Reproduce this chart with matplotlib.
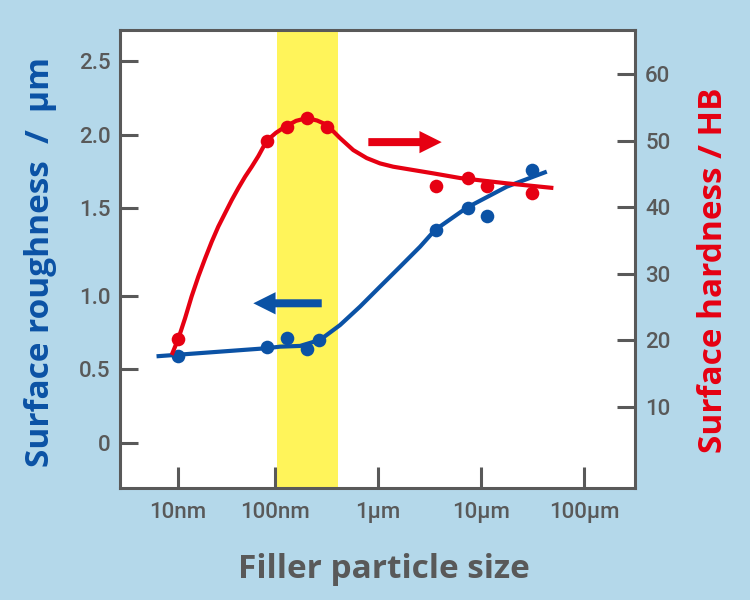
import numpy as np
import matplotlib
matplotlib.use("Agg")
import matplotlib.pyplot as plt
from matplotlib.ticker import FixedLocator, FixedFormatter, NullLocator

# --- data (particle size in nm) ---
rough_x = [10, 83, 130, 205, 270, 3630, 7430, 11400, 31500]
rough_y = [0.59, 0.65, 0.71, 0.64, 0.70, 1.375, 1.50, 1.455, 1.76]
hard_x = [10, 83, 130, 205, 318, 3630, 7430, 11400, 31500]
hard_y = [20.2, 50.0, 52.1, 53.5, 52.1, 43.2, 44.4, 43.2, 42.1]

# fitted trend curves
rough_fit_x = [6.0, 81, 112, 175, 273, 428, 668, 1045, 1636, 2560, 3573, 7280, 17800, 43500]
rough_fit_y = [0.587, 0.642, 0.653, 0.658, 0.699, 0.801, 0.927, 1.053, 1.166, 1.280, 1.375,
               1.502, 1.646, 1.749]
hard_fit_x = [8.6, 10.1, 11.8, 13.8, 16.2, 19.0, 22.2, 26.0, 30.5, 35.8, 41.9, 49.1, 57.5,
              67.3, 82.0, 102, 125, 160, 203, 256, 318, 428, 575, 776, 1045, 1406, 2200,
              3443, 6252, 17800, 50400]
hard_fit_y = [17.8, 20.3, 23.3, 26.6, 29.6, 32.3, 34.8, 37.1, 39.1, 41.1, 42.9, 44.6, 46.1,
              47.7, 50.0, 51.2, 52.1, 53.0, 53.4, 53.05, 52.4, 50.4, 48.6, 47.4, 46.6, 46.1,
              45.6, 45.1, 44.4, 43.6, 42.9]

x_ticks = [10, 100, 1000, 10000, 100000]
x_ticklabels = ["10nm", "100nm", "1μm", "10μm", "100μm"]
rough_ticks = [0, 0.5, 1.0, 1.5, 2.0, 2.5]
rough_ticklabels = ["0", "0.5", "1.0", "1.5", "2.0", "2.5"]
hard_ticks = [10, 20, 30, 40, 50, 60]
band = (105, 410)            # highlighted size range, nm

BG = "#B4D8EA"
GRAY = "#595959"
BLUE = "#0B52A5"
RED = "#E60012"
YELLOW = "#FFF45A"

# the original axes are hand drawn: tick spacing is not exactly uniform,
# so use piecewise-linear scales that hit the drawn tick positions
X_KNOTS = np.array([-3, 1, 2, 3, 4, 5, 9])          # log10(nm)
X_POS = np.array([-388, 0, 97, 200, 303, 406, 818])
Y_KNOTS = np.array([-2, 0, 0.5, 1.0, 1.5, 2.0, 2.5, 4.5])
Y_POS = np.array([-292, 0, 74, 147, 235, 308, 382, 674])


def x_fwd(v):
    return np.interp(np.log10(np.clip(v, 1e-3, None)), X_KNOTS, X_POS)


def x_inv(p):
    return 10 ** np.interp(p, X_POS, X_KNOTS)


def y_fwd(v):
    return np.interp(v, Y_KNOTS, Y_POS)


def y_inv(p):
    return np.interp(p, Y_POS, Y_KNOTS)


tick_font = dict(family=["Roboto", "DejaVu Sans"], size=16, weight="medium", color=GRAY)
label_font = dict(family=["Open Sans", "DejaVu Sans"], size=24, weight="bold")

fig = plt.figure(figsize=(7.5, 6), dpi=100, facecolor=BG)
ax = fig.add_axes([0.16, 0.1867, 0.6873, 0.7633])
ax.set_facecolor("white")
ax.set_xscale("function", functions=(x_fwd, x_inv))
ax.set_yscale("function", functions=(y_fwd, y_inv))
ax.set_xlim(2.52, 316000)
ax.set_ylim(-0.308, 2.712)

ax.axvspan(*band, color=YELLOW, lw=0, zorder=0)

ax.plot(rough_fit_x, rough_fit_y, color=BLUE, lw=3, solid_capstyle="butt",
        solid_joinstyle="round", zorder=2)
ax.plot(rough_x, rough_y, "o", color=BLUE, ms=9.8, mec="none", zorder=3)

ax2 = ax.twinx()
ax2.set_ylim(-2.21, 66.66)
ax2.plot(hard_fit_x, hard_fit_y, color=RED, lw=3, solid_capstyle="butt",
         solid_joinstyle="round", zorder=2)
ax2.plot(hard_x, hard_y, "o", color=RED, ms=9.8, mec="none", zorder=3)

# direction arrows: which axis each curve belongs to
ax2.annotate("", xy=(4150, 49.8), xytext=(805, 49.8),
             arrowprops=dict(arrowstyle="simple,head_length=1.0,head_width=1.0,tail_width=0.36",
                             color=RED, lw=0, shrinkA=0, shrinkB=0, mutation_scale=16))
ax.annotate("", xy=(59.7, 0.95), xytext=(284, 0.95),
            arrowprops=dict(arrowstyle="simple,head_length=1.0,head_width=1.0,tail_width=0.36",
                            color=BLUE, lw=0, shrinkA=0, shrinkB=0, mutation_scale=16))

# ticks
ax.xaxis.set_major_locator(FixedLocator(x_ticks))
ax.xaxis.set_major_formatter(FixedFormatter(x_ticklabels))
ax.xaxis.set_minor_locator(NullLocator())
ax.yaxis.set_major_locator(FixedLocator(rough_ticks))
ax.yaxis.set_major_formatter(FixedFormatter(rough_ticklabels))
ax.yaxis.set_minor_locator(NullLocator())
ax2.yaxis.set_major_locator(FixedLocator(hard_ticks))
ax2.yaxis.set_minor_locator(NullLocator())

ax.tick_params(axis="x", direction="in", length=15, width=2.2, color=GRAY, pad=10,
               top=False, bottom=True)
ax.tick_params(axis="y", direction="in", length=13, width=2.2, color=GRAY, pad=7,
               left=True, right=False)
ax2.tick_params(axis="y", direction="in", length=13, width=2.2, color=GRAY, pad=7,
                left=False, right=True)
for lab in ax.get_xticklabels() + ax.get_yticklabels() + ax2.get_yticklabels():
    lab.set(**tick_font)

for s in ax.spines.values():
    s.set_color(GRAY)
    s.set_linewidth(2.2)
for s in ax2.spines.values():
    s.set_visible(False)

ax.set_xlabel("Filler particle size", color=GRAY, **label_font)
ax.xaxis.set_label_coords(0.512, -0.142)
ax.set_ylabel("Surface roughness  /  μm", color=BLUE, **label_font)
ax.yaxis.set_label_coords(-0.122, 0.493)
ax2.set_ylabel("Surface hardness / HB", color=RED, rotation=90, **label_font)
ax2.yaxis.set_label_coords(1.12, 0.475)

fig.savefig("out.png", dpi=100, facecolor=BG)
